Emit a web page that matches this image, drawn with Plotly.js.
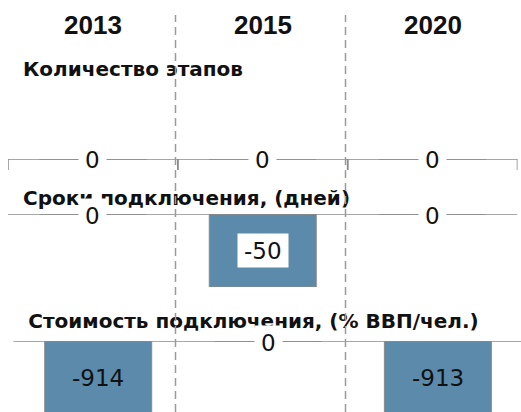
<!DOCTYPE html>
<html><head><meta charset="utf-8">
<script src="https://cdn.plot.ly/plotly-3.0.1.min.js"></script>
<style>html,body{margin:0;padding:0;background:#fff}</style>
</head><body><div id="chart" style="width:521px;height:412px"></div>
<script>
// ---- data ----
const years = ['2013', '2015', '2020'];
const rowTitles = ['Количество этапов', 'Сроки подключения, (дней)', 'Стоимость подключения, (% ВВП/чел.)'];
const stepsValues = [0, 0, 0];
const timeValues = [0, -50, 0];
const costValues = [-914, 0, -913];
const rows = [stepsValues, timeValues, costValues];

// ---- layout constants (pixels) ----
const W = 521, H = 412;
const colW = 169.83;
const rowX0 = [8, 8, 13.3];
const baselineY = [159, 214, 341];
const barPx = 73;
const tickLen = [-11, 9, 9];
const titleY = [68, 197, 320];
const titleIndent = 12;
const headerY = 25;
const dashX = [175.5, 345.5];
const dashTop = 15;
const valueBg = ['white', 'white', 'rgba(0,0,0,0)'];
const FONT = 'Liberation Sans, Arial, sans-serif';
const FONT2 = 'DejaVu Sans, sans-serif';
const BAR = '#5b8aab';
const LINE = '#8a8a8a';
const LABEL_SIZE = 23;
const TITLE_SIZE = 20;

function suffix(r) { return r === 0 ? '' : String(r + 1); }
function textW(s, size) {
  let w = 0;
  for (const ch of s) w += (ch === '-' ? 0.361 : 0.636);
  return w * size;
}

const data = [];
const layout = {
  width: W, height: H,
  margin: {l: 0, r: 0, t: 0, b: 0, pad: 0},
  paper_bgcolor: '#fff', plot_bgcolor: 'rgba(0,0,0,0)',
  showlegend: false,
  shapes: [], annotations: []
};

rows.forEach((vals, r) => {
  const s = suffix(r);
  const xs = years.map((_, i) => i);
  data.push({
    type: 'bar', x: xs, y: vals, width: 0.63,
    xaxis: 'x' + s, yaxis: 'y' + s,
    marker: {color: BAR, line: {color: LINE, width: 1}},
    hoverinfo: 'skip'
  });
  const x0 = rowX0[r];
  const x1 = x0 + 3 * colW;
  const dom1 = Math.min(x1, W);
  const visCols = (dom1 - x0) / colW;
  layout['xaxis' + s] = {
    domain: [x0 / W, dom1 / W], range: [-0.5, -0.5 + visCols],
    visible: false, fixedrange: true, anchor: 'y' + s
  };
  const maxAbs = Math.max(...vals.map(Math.abs)) || 1;
  const visPx = Math.min(barPx, H - baselineY[r]);
  layout['yaxis' + s] = {
    domain: [1 - (baselineY[r] + visPx) / H, 1 - baselineY[r] / H],
    range: [-maxAbs * visPx / barPx, 0],
    visible: false, fixedrange: true, anchor: 'x' + s
  };
  vals.forEach((v, i) => {
    layout.shapes.push({type: 'line', xref: 'x' + s, yref: 'y' + s,
      x0: i - 0.5, x1: i + 0.5, y0: 0, y1: 0, line: {color: LINE, width: 1.5}});
    [i - 0.5, i + 0.5].forEach(xe => {
      layout.shapes.push({type: 'line', xref: 'x' + s, yref: 'y' + s,
        ysizemode: 'pixel', yanchor: 0,
        x0: xe, x1: xe, y0: 0, y1: tickLen[r], line: {color: LINE, width: 1.5}});
    });
  });
  // row title
  layout.shapes.push({type: 'rect', xref: 'paper', yref: 'paper',
    x0: (x0 + titleIndent) / W, x1: 1,
    y0: 1 - (titleY[r] + 13) / H, y1: 1 - (titleY[r] - 13) / H,
    line: {width: 0}, fillcolor: 'rgba(0,0,0,0)',
    label: {text: '<b>' + rowTitles[r] + '</b>', textposition: 'middle left', padding: 0,
      font: {family: FONT2, size: TITLE_SIZE, color: '#111'}}});
  // value labels
  vals.forEach((v, i) => {
    const t = String(v);
    layout.annotations.push({
      xref: 'x' + s, yref: 'y' + s, x: i, y: v / 2, text: t, showarrow: false,
      xanchor: 'center', yanchor: 'middle',
      font: {family: FONT2, size: LABEL_SIZE, color: '#111'},
      bgcolor: v === 0 ? 'white' : valueBg[r], borderpad: 4,
      width: textW(t, LABEL_SIZE) + 4, height: 25, yshift: v === 0 ? -1 : 0
    });
  });
});

// column headers
years.forEach((y, i) => {
  layout.annotations.push({
    xref: 'x', yref: 'paper', x: i, y: 1 - headerY / H, text: y, showarrow: false,
    xanchor: 'center', yanchor: 'middle',
    font: {family: FONT, size: 26, color: '#111', weight: 'bold'}
  });
});

// dashed separators (drawn last, above titles)
dashX.forEach(dx => {
  layout.shapes.push({type: 'line', xref: 'paper', yref: 'paper',
    x0: dx / W, x1: dx / W, y0: 0, y1: 1 - dashTop / H,
    line: {color: '#9a9a9a', width: 1.5, dash: '8px,5px'}});
});

Plotly.newPlot('chart', data, layout, {staticPlot: true, displayModeBar: false});
</script></body></html>
